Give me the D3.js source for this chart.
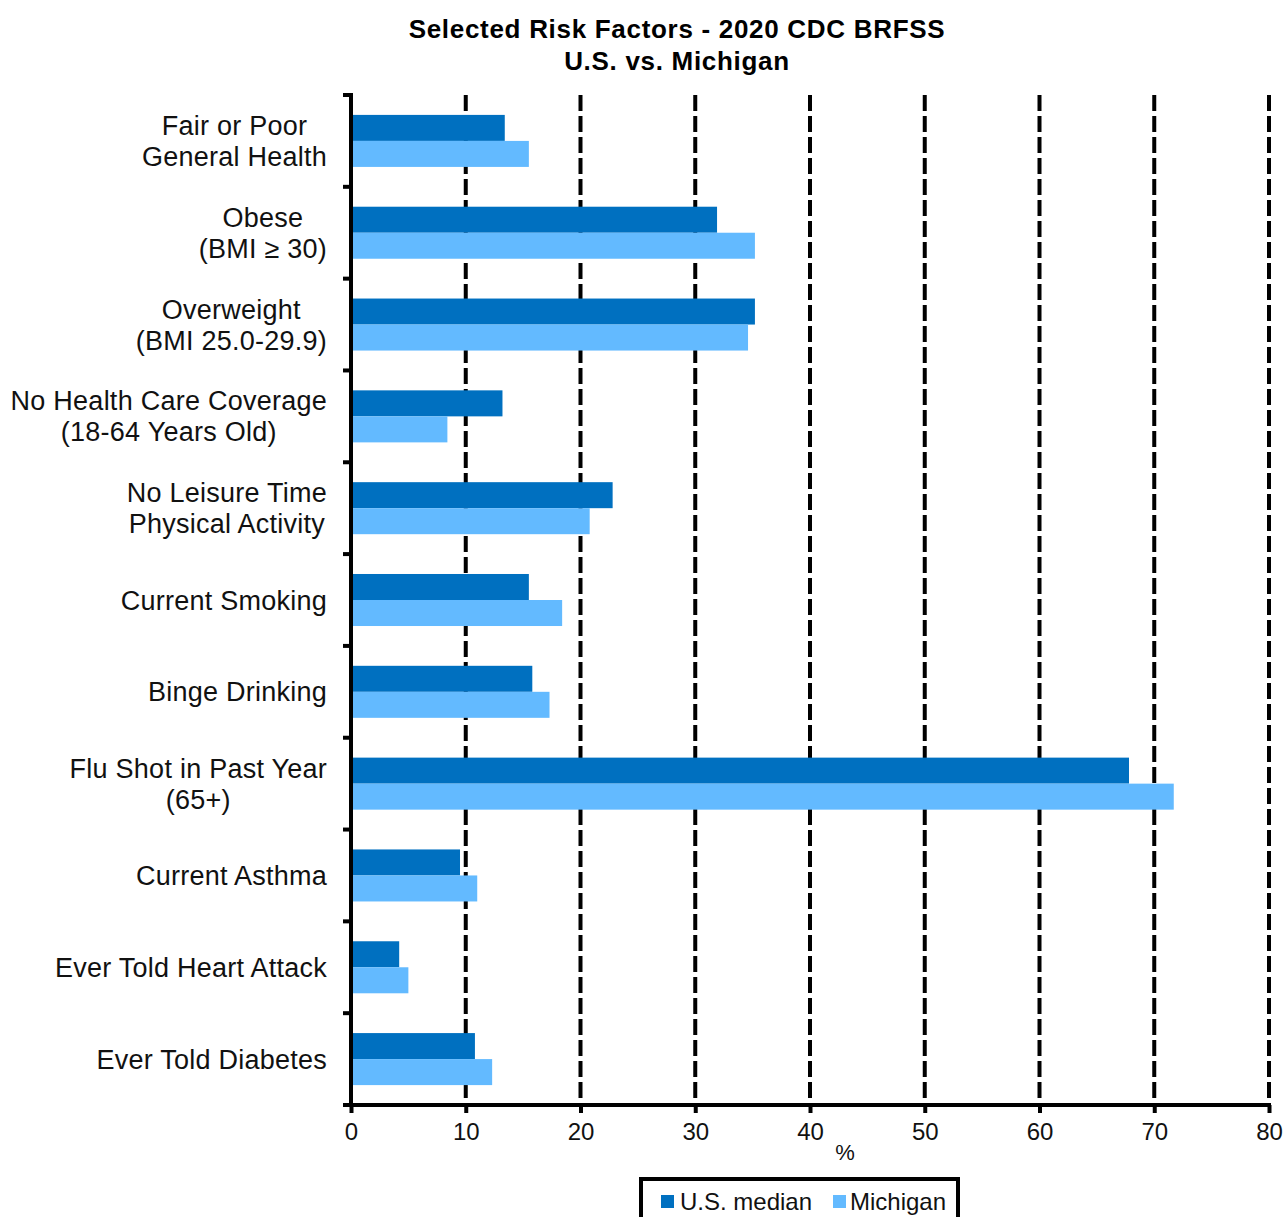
<!DOCTYPE html>
<html>
<head>
<meta charset="utf-8">
<script src="https://cdn.jsdelivr.net/npm/d3@7"></script>
<style>
  html, body { margin: 0; padding: 0; background: #fff; }
  svg { display: block; font-family: "Liberation Sans", Arial, sans-serif; }
</style>
</head>
<body>
<svg id="chart" width="1286" height="1217"></svg>
<script>
// Risk factor categories (lines of each label)
const categories = [
  ["Fair or Poor", "General Health"],
  ["Obese", "(BMI \u2265 30)"],
  ["Overweight", "(BMI 25.0-29.9)"],
  ["No Health Care Coverage", "(18-64 Years Old)"],
  ["No Leisure Time", "Physical Activity"],
  ["Current Smoking"],
  ["Binge Drinking"],
  ["Flu Shot in Past Year", "(65+)"],
  ["Current Asthma"],
  ["Ever Told Heart Attack"],
  ["Ever Told Diabetes"]
];
const seriesNames = ["U.S. median", "Michigan"];
const usMedian = [13.4, 31.9, 35.2, 13.2, 22.8, 15.5, 15.8, 67.8, 9.5, 4.2, 10.8];
const michigan = [15.5, 35.2, 34.6, 8.4, 20.8, 18.4, 17.3, 71.7, 11.0, 5.0, 12.3];
const xTicks = [0, 10, 20, 30, 40, 50, 60, 70, 80];
const colors = ["#0070C0", "#63BAFF"];

const svg = d3.select("#chart");
const plotLeft = 351, plotRight = 1269, plotTop = 95, plotBottom = 1105;

const keys = categories.map(c => c.join(" "));
const x = d3.scaleLinear().domain([0, 80]).range([plotLeft, plotRight]);
const y = d3.scaleBand().domain(keys).range([plotTop, plotBottom]).padding(0);
const ySub = d3.scaleBand().domain(seriesNames).range([0, y.bandwidth()])
  .paddingInner(0).paddingOuter(0.765);

// Title
const title = svg.append("g").attr("font-weight", "bold").attr("font-size", 26)
  .attr("letter-spacing", 0.7).attr("text-anchor", "middle").attr("fill", "#000");
title.append("text").attr("x", 677).attr("y", 38).text("Selected Risk Factors - 2020 CDC BRFSS");
title.append("text").attr("x", 677).attr("y", 70).text("U.S. vs. Michigan");

// Dashed vertical gridlines
svg.append("g").selectAll("line")
  .data(xTicks.filter(d => d > 0))
  .join("line")
  .attr("x1", d => x(d)).attr("x2", d => x(d))
  .attr("y1", plotTop).attr("y2", plotBottom)
  .attr("stroke", "#000").attr("stroke-width", 4)
  .attr("stroke-dasharray", "16,5");

// Bars
const rows = keys.map((k, i) => ({ key: k, values: [usMedian[i], michigan[i]] }));
const groups = svg.append("g").selectAll("g")
  .data(rows).join("g")
  .attr("transform", d => `translate(0,${y(d.key)})`);
groups.selectAll("rect")
  .data(d => d.values.map((v, j) => ({ name: seriesNames[j], value: v, j })))
  .join("rect")
  .attr("x", x(0))
  .attr("y", d => ySub(d.name))
  .attr("width", d => x(d.value) - x(0))
  .attr("height", ySub.bandwidth())
  .attr("fill", d => colors[d.j]);

// Left axis: line with ticks at category boundaries
const boundaries = keys.map(k => y(k)).concat([plotBottom]);
const leftAxis = svg.append("g");
leftAxis.append("line")
  .attr("x1", plotLeft).attr("x2", plotLeft).attr("y1", plotTop - 2).attr("y2", plotBottom + 2)
  .attr("stroke", "#000").attr("stroke-width", 4);
leftAxis.selectAll("line.tick").data(boundaries).join("line").attr("class", "tick")
  .attr("x1", plotLeft - 8).attr("x2", plotLeft).attr("y1", d => d).attr("y2", d => d)
  .attr("stroke", "#000").attr("stroke-width", 4);

// Bottom axis
const xAxis = svg.append("g")
  .attr("transform", `translate(0,${plotBottom})`)
  .call(d3.axisBottom(x).tickValues(xTicks).tickSize(8).tickSizeOuter(0).tickPadding(10));
xAxis.select(".domain").remove();
xAxis.append("line").attr("x1", plotLeft - 8).attr("x2", plotRight + 2).attr("y1", 0).attr("y2", 0)
  .attr("stroke", "#000").attr("stroke-width", 4);
xAxis.selectAll(".tick line").attr("stroke", "#000").attr("stroke-width", 4);
xAxis.selectAll(".tick text").attr("font-size", 24).attr("fill", "#111")
  .attr("font-family", "'Liberation Sans', Arial, sans-serif").attr("dy", "0.71em");

svg.append("text").attr("x", 845).attr("y", 1160).attr("text-anchor", "middle")
  .attr("font-size", 22).attr("fill", "#111").text("%");

// Category labels, multi-line, centered on one another, right edge at 327
const labelG = svg.append("g").attr("font-size", 27).attr("letter-spacing", 0.25).attr("fill", "#111");
rows.forEach((r, i) => {
  const lines = categories[i];
  const cy = y(r.key) + y.bandwidth() / 2;
  const lh = 31;
  const t = labelG.append("text").attr("text-anchor", "middle");
  const spans = lines.map((ln, k) => t.append("tspan")
    .attr("y", cy + (k - (lines.length - 1) / 2) * lh + 9.5).text(ln));
  const maxW = d3.max(spans, s => s.node().getComputedTextLength());
  spans.forEach(s => s.attr("x", 327 - maxW / 2));
});

// Legend
const legend = svg.append("g");
legend.append("rect").attr("x", 641).attr("y", 1179).attr("width", 317).attr("height", 60)
  .attr("fill", "#fff").attr("stroke", "#000").attr("stroke-width", 4);
const items = [{ name: seriesNames[0], sx: 661, tx: 680 }, { name: seriesNames[1], sx: 833, tx: 850 }];
items.forEach((it, j) => {
  legend.append("rect").attr("x", it.sx).attr("y", 1195).attr("width", 13).attr("height", 13)
    .attr("fill", colors[j]);
  legend.append("text").attr("x", it.tx).attr("y", 1210).attr("font-size", 24)
    .attr("fill", "#111").text(it.name);
});
</script>
</body>
</html>
